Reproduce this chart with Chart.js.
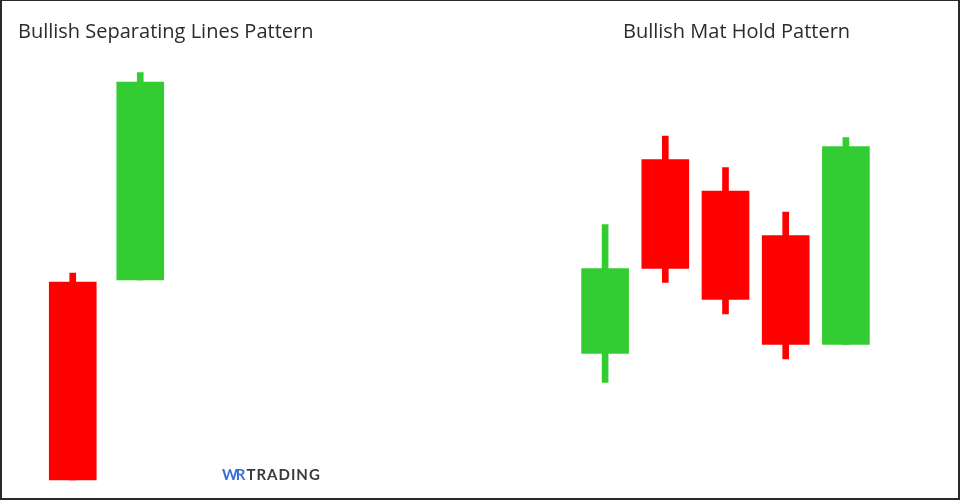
<!doctype html>
<html lang="en">
  <head>
    <meta charset="utf-8">
    <title>Bullish Separating Lines / Mat Hold</title>
    <style>
      * { margin: 0; padding: 0; }
      body { width: 960px; height: 500px; background: #fff; overflow: hidden; }
      .frame {
        position: absolute; left: 0; top: 0; width: 960px; height: 500px;
        box-sizing: border-box; border: 2px solid #2a2a2a; border-top-width: 1px;
        pointer-events: none;
      }
      canvas { position: absolute; left: 0; top: 0; }
      .title {
        position: absolute; font-family: "Open Sans", sans-serif; font-size: 20px;
        line-height: 1; color: #2b2b2b; white-space: nowrap;
      }
      .logo {
        position: absolute; left: 222px; top: 467px; font-family: Lato, sans-serif;
        font-size: 15px; font-weight: 700; line-height: 1; color: #3a3a3a; letter-spacing: 1px;
      }
      .logo span { color: #3b6fd6; letter-spacing: -2px; margin-right: 3px; }
    </style>
  </head>
  <body>
    <div id="box1" style="position:absolute;left:0;top:0;width:960px;height:500px"><canvas id="leftChart"></canvas></div>
    <div id="box2" style="position:absolute;left:0;top:0;width:960px;height:500px"><canvas id="rightChart"></canvas></div>
    <div class="title" style="left:18px;top:21px">Bullish Separating Lines Pattern</div>
    <div class="title" style="left:623px;top:21px">Bullish Mat Hold Pattern</div>
    <div class="logo"><span>WR</span>TRADING</div>
    <div class="frame"></div>
    <script src="https://cdn.jsdelivr.net/npm/chart.js/dist/chart.umd.min.js"></script>
    <script>
    // candle data (price units, 0..100)
    const sepLabels = ['1', '2'];
    const sepOpen  = [43.6, 44.0];
    const sepClose = [4.0, 83.6];
    const sepHigh  = [45.4, 85.5];
    const sepLow   = [4.0, 44.0];

    const matLabels = ['1', '2', '3', '4', '5'];
    const matOpen  = [29.3, 68.1, 61.8, 52.9, 31.1];
    const matClose = [46.3, 46.3, 40.1, 31.1, 70.7];
    const matHigh  = [55.1, 72.8, 66.5, 57.6, 72.5];
    const matLow   = [23.5, 43.5, 37.2, 28.2, 31.1];

    const UP = '#33cc33';
    const DOWN = '#ff0000';

    function candleChart(id, labels, open, close, high, low, padLeft, padRight) {
      const colors = open.map((o, i) => close[i] >= o ? UP : DOWN);
      return new Chart(document.getElementById(id), {
        type: 'bar',
        data: {
          labels: labels,
          datasets: [
            {
              label: 'body',
              data: open.map((o, i) => [o, close[i]]),
              backgroundColor: colors,
              barThickness: 47,
              grouped: false,
              order: 1
            },
            {
              label: 'wick',
              data: low.map((l, i) => [l, high[i]]),
              backgroundColor: colors,
              barThickness: 6,
              grouped: false,
              order: 2
            }
          ]
        },
        options: {
          responsive: true,
          maintainAspectRatio: false,
          animation: false,
          layout: { padding: { left: padLeft, right: padRight, top: 0, bottom: 0 } },
          plugins: { legend: { display: false }, tooltip: { enabled: false } },
          scales: {
            x: { display: false, offset: true },
            y: { display: false, min: 0, max: 100 }
          }
        }
      });
    }

    candleChart('leftChart', sepLabels, sepOpen, sepClose, sepHigh, sepLow, 39, 786);
    candleChart('rightChart', matLabels, matOpen, matClose, matHigh, matLow, 575, 84);
    </script>
  </body>
</html>
